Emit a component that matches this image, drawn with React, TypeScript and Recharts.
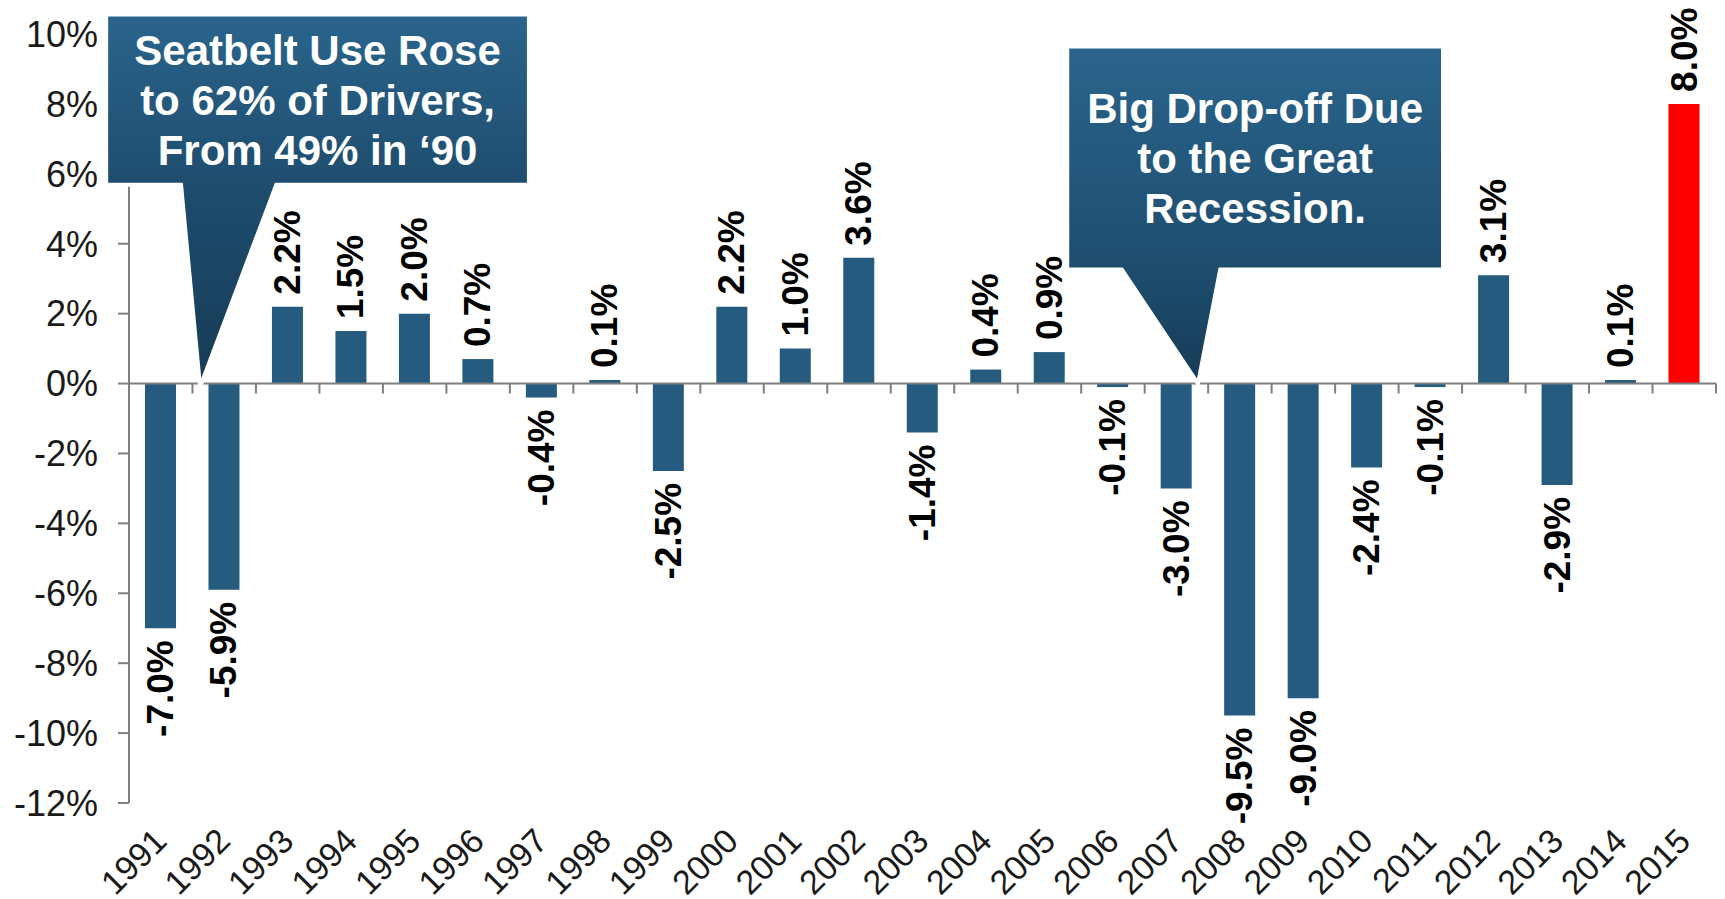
import React from 'react';
import { BarChart, Bar, XAxis, YAxis, Cell, LabelList, ReferenceLine, ReferenceArea } from 'recharts';

const years = ['1991','1992','1993','1994','1995','1996','1997','1998','1999','2000','2001','2002','2003','2004','2005','2006','2007','2008','2009','2010','2011','2012','2013','2014','2015'];
const changes = [-7.0,-5.9,2.2,1.5,2.0,0.7,-0.4,0.1,-2.5,2.2,1.0,3.6,-1.4,0.4,0.9,-0.1,-3.0,-9.5,-9.0,-2.4,-0.1,3.1,-2.9,0.1,8.0];
const highlightYear = '2015';
const yTicks = [-12,-10,-8,-6,-4,-2,0,2,4,6,8,10];
const yMin = -12;
const yMax = 10;

const calloutSeatbelt = ['Seatbelt Use Rose', 'to 62% of Drivers,', 'From 49% in \u201890'];
const calloutRecession = ['Big Drop-off Due', 'to the Great', 'Recession.'];

const FONT = '"Liberation Sans", Arial, Helvetica, sans-serif';
const BAR_COLOR = '#245B7F';
const HIGHLIGHT = '#FF0000';
const AXIS = '#7f7f7f';
const TEXT = '#1a1a1a';

const data = years.map((year, i) => ({ year, value: changes[i] }));

const renderValueLabel = (props: any) => {
  const { x, y, width, height, value } = props;
  const top = Math.min(y, y + height);
  const bottom = Math.max(y, y + height);
  const cx = x + width / 2;
  const pos = value >= 0;
  const ay = pos ? top - 12 : bottom + 12;
  return (
    <text
      x={cx}
      y={ay}
      transform={`rotate(-90 ${cx} ${ay})`}
      textAnchor={pos ? 'start' : 'end'}
      dominantBaseline="central"
      fontFamily={FONT}
      fontWeight="bold"
      fontSize={37}
      fill="#000"
    >
      {`${Number(value).toFixed(1)}%`}
    </text>
  );
};

const XTick = (props: any) => {
  const { x, y, payload } = props;
  const ax = x + 8;
  const ay = y + 40;
  return (
    <text
      x={ax}
      y={ay}
      transform={`rotate(-45 ${ax} ${ay})`}
      textAnchor="end"
      fontFamily={FONT}
      fontSize={34}
      fill={TEXT}
    >
      {payload.value}
    </text>
  );
};

// Callouts in chart units: x = category-boundary index (0..25), y = percent
type CalloutSpec = {
  id: string;
  lines: string[];
  x1: number; x2: number; y1: number; y2: number;
  tipX: number; tipY: number;
  baseL: number; baseR: number;
};

const seatbeltSpec: CalloutSpec = {
  id: 'seatbelt', lines: calloutSeatbelt,
  x1: -0.36, x2: 6.3, y1: 5.69, y2: 10.56,
  tipX: 1.12, tipY: -0.1, baseL: 0.82, baseR: 2.32,
};
const recessionSpec: CalloutSpec = {
  id: 'recession', lines: calloutRecession,
  x1: 14.78, x2: 20.7, y1: 3.26, y2: 9.64,
  tipX: 16.84, tipY: 0, baseL: 15.64, baseR: 17.19,
};
const callouts = [seatbeltSpec, recessionSpec];

const overlayShape = (props: any) => {
  const { x, y, width, height } = props;
  const n = years.length;
  const px = (v: number) => x + (v / n) * width;
  const py = (v: number) => y + ((yMax - v) / (yMax - yMin)) * height;
  const zeroY = py(0);
  const boundaries = years.map((_, i) => i).concat([n]);
  return (
    <g>
      {boundaries.map((b) => (
        <line key={`t${b}`} x1={px(b)} x2={px(b)} y1={zeroY} y2={zeroY + 10} stroke={AXIS} strokeWidth={2} />
      ))}
      {callouts.map((spec) => {
        const left = px(spec.x1), right = px(spec.x2);
        const top = py(spec.y2), bottom = py(spec.y1);
        const tx = px(spec.tipX), ty = py(spec.tipY);
        const bl = px(spec.baseL), br = px(spec.baseR);
        const d = `M${left},${top} L${right},${top} L${right},${bottom} L${br},${bottom} L${tx},${ty} L${bl},${bottom} L${left},${bottom} Z`;
        const cx = (left + right) / 2;
        const cy = (top + bottom) / 2;
        const gid = `grad-${spec.id}`;
        return (
          <g key={spec.id}>
            <defs>
              <linearGradient id={gid} gradientUnits="userSpaceOnUse" x1={0} y1={top} x2={0} y2={ty}>
                <stop offset="0" stopColor="#2a648c" />
                <stop offset={String((bottom - top) / (ty - top))} stopColor="#1e4d6e" />
                <stop offset="1" stopColor="#163b56" />
              </linearGradient>
            </defs>
            <path d={d} fill={`url(#${gid})`} stroke="#ffffff" strokeWidth={4} strokeLinejoin="miter" />
            {spec.lines.map((line, i) => (
              <text
                key={i}
                x={cx}
                y={cy + 15 + (i - 1) * 50}
                textAnchor="middle"
                fontFamily={FONT}
                fontWeight="bold"
                fontSize={42}
                fill="#ffffff"
              >
                {line}
              </text>
            ))}
          </g>
        );
      })}
    </g>
  );
};

export default function App() {
  return (
    <div style={{ position: 'absolute', left: 0, top: 0, width: 1725, height: 899, background: '#fff' }}>
      <BarChart
        width={1725}
        height={899}
        data={data}
        margin={{ top: 34, right: 9, bottom: 0, left: 0 }}
        barSize={31}
      >
        <XAxis
          dataKey="year"
          height={96}
          axisLine={false}
          tickLine={false}
          tickSize={0}
          tickMargin={0}
          interval={0}
          tick={<XTick />}
        />
        <YAxis
          width={129}
          domain={[yMin, yMax]}
          ticks={yTicks}
          interval={0}
          allowDataOverflow
          tickFormatter={(v: number) => `${v}%`}
          axisLine={{ stroke: AXIS, strokeWidth: 2 }}
          tickLine={{ stroke: AXIS, strokeWidth: 2 }}
          tickSize={11}
          tickMargin={20}
          tick={{ fontSize: 36, fill: TEXT, fontFamily: FONT }}
        />
        <Bar dataKey="value" isAnimationActive={false}>
          {data.map((d) => (
            <Cell key={d.year} fill={d.year === highlightYear ? HIGHLIGHT : BAR_COLOR} />
          ))}
          <LabelList dataKey="value" content={renderValueLabel} />
        </Bar>
        <ReferenceLine y={0} stroke={AXIS} strokeWidth={2} ifOverflow="visible" />
        <ReferenceArea
          y1={yMin}
          y2={yMax}
          ifOverflow="visible"
          shape={overlayShape}
          zIndex={2500}
        />
      </BarChart>
    </div>
  );
}
